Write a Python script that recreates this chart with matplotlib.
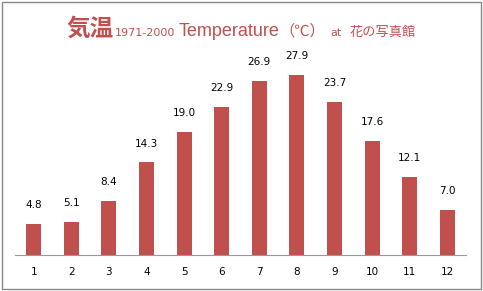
import matplotlib.pyplot as plt
from matplotlib.patches import Rectangle

months = [1, 2, 3, 4, 5, 6, 7, 8, 9, 10, 11, 12]
temps = [4.8, 5.1, 8.4, 14.3, 19.0, 22.9, 26.9, 27.9, 23.7, 17.6, 12.1, 7.0]
month_labels = [str(m) for m in months]

red = '#c0504d'
plt.rcParams['font.family'] = ['DejaVu Sans', 'Noto Sans CJK JP']

fig = plt.figure(figsize=(4.83, 2.91), dpi=100)
ax = fig.add_axes([0.031, 0.124, 0.934, 0.711])

bars = ax.bar(months, temps, width=0.4, color=red)
for m, t in zip(months, temps):
    ax.annotate('%.1f' % t, (m, t), xytext=(0, 10), textcoords='offset points',
                ha='center', va='bottom', fontsize=7.5)

ax.set_xlim(0.5, 12.5)
ax.set_ylim(0, 32)
ax.set_xticks(months)
ax.set_xticklabels(month_labels, fontsize=7.5)
ax.tick_params(axis='x', length=0, pad=9)
ax.set_yticks([])
for s in ['top', 'left', 'right']:
    ax.spines[s].set_visible(False)
ax.spines['bottom'].set_color('#999999')

# title in pieces, placed one after another
y0 = 1 - 36 / 291
pieces = [
    ('気温', 17, 'bold', ['Noto Sans CJK JP'], 2),
    ('1971-2000', 8, 'normal', ['DejaVu Sans'], 3),
    ('Temperature', 13, 'normal', ['Liberation Sans'], 0),
    ('（℃）', 11, 'normal', ['Noto Sans CJK JP'], 5),
    ('at', 8, 'normal', ['DejaVu Sans'], 8),
    ('花の写真館', 9.5, 'normal', ['Noto Sans CJK JP'], 0),
]
fig.canvas.draw()
renderer = fig.canvas.get_renderer()
x = 66
for s, size, weight, fam, gap in pieces:
    t = fig.text(x / 483, y0, s, fontsize=size, fontweight=weight, color=red,
                 family=fam, va='baseline')
    x += t.get_window_extent(renderer).width + gap

fig.patches.append(Rectangle((0.004, 0.006), 0.992, 0.988, transform=fig.transFigure,
                             fill=False, edgecolor='#888888', linewidth=1))

plt.savefig('out.png', dpi=100)
